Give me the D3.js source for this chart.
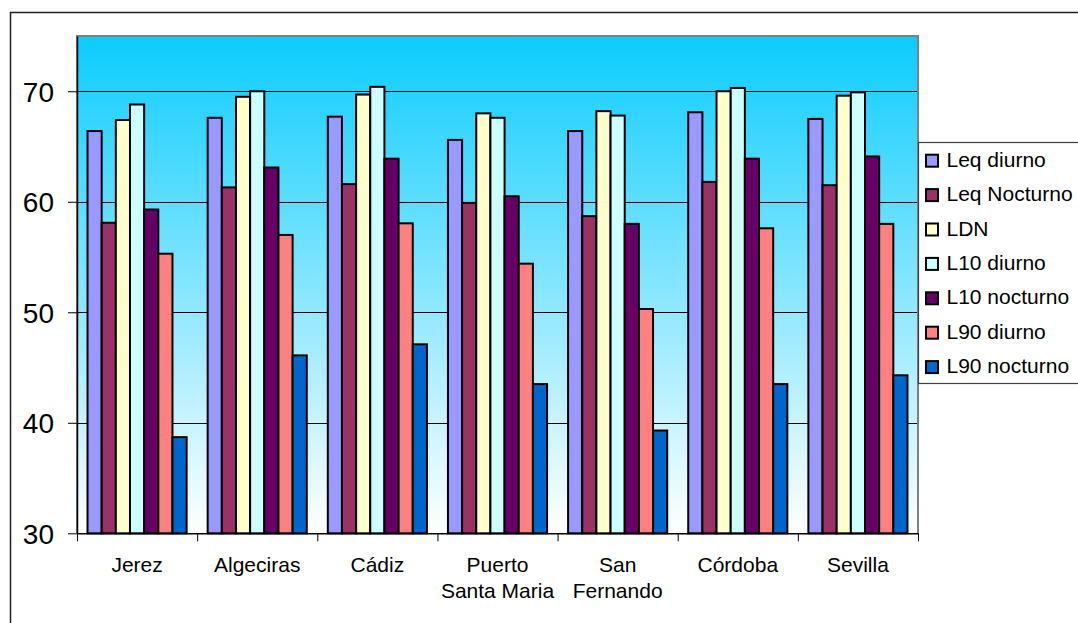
<!DOCTYPE html>
<html><head><meta charset="utf-8">
<script src="https://cdn.jsdelivr.net/npm/d3@7"></script>
<style>body{margin:0;background:#fff;} svg{display:block;font-family:Arial,"Liberation Sans",sans-serif;}</style>
</head><body><svg id="c" width="1078" height="623"></svg>
<script>
const categories = [["Jerez"],["Algeciras"],["Cádiz"],["Puerto","Santa Maria"],["San","Fernando"],["Córdoba"],["Sevilla"]];
const seriesNames = ["Leq diurno","Leq Nocturno","LDN","L10 diurno","L10 nocturno","L90 diurno","L90 nocturno"];
const seriesColors = ["#9999FF","#993366","#FFFFCC","#CCFFFF","#660066","#FF8080","#0066CC"];
const leqDiurno   = [66.4, 67.6, 67.7, 65.6, 66.4, 68.1, 67.5];
const leqNocturno = [58.1, 61.3, 61.6, 59.9, 58.7, 61.8, 61.5];
const ldn         = [67.4, 69.5, 69.7, 68.0, 68.2, 70.0, 69.6];
const l10Diurno   = [68.8, 70.0, 70.4, 67.6, 67.8, 70.3, 69.9];
const l10Nocturno = [59.3, 63.1, 63.9, 60.5, 58.0, 63.9, 64.1];
const l90Diurno   = [55.3, 57.0, 58.05, 54.4, 50.3, 57.6, 58.0];
const l90Nocturno = [38.7, 46.1, 47.1, 43.5, 39.3, 43.5, 44.3];
const seriesValues = [leqDiurno, leqNocturno, ldn, l10Diurno, l10Nocturno, l90Diurno, l90Nocturno];
const yTicks = [30, 40, 50, 60, 70];

const svg = d3.select("#c");
const L = 77, R = 918, T = 36, B = 533.3;

// outer border
svg.append("rect").attr("x",10.5).attr("y",12.5).attr("width",1100).attr("height",700)
  .attr("fill","#fff").attr("stroke","#222").attr("stroke-width",1.5);

const defs = svg.append("defs");
const g = defs.append("linearGradient").attr("id","bg").attr("x1",0).attr("y1",0).attr("x2",0).attr("y2",1);
g.append("stop").attr("offset","0%").attr("stop-color","#0BCCFF");
g.append("stop").attr("offset","100%").attr("stop-color","#FFFFFF");

const x0 = d3.scaleBand().domain(d3.range(categories.length)).range([L, R]).paddingInner(0).paddingOuter(0);
const bw = x0.bandwidth();
const x1 = d3.scaleBand().domain(d3.range(seriesNames.length)).range([bw*0.0875, bw*0.9125]).paddingInner(0).paddingOuter(0);
const y = d3.scaleLinear().domain([30, 75]).range([B, T]);

svg.append("rect").attr("x",L).attr("y",T).attr("width",R-L).attr("height",B-T).attr("fill","url(#bg)");

// gridlines
svg.append("g").selectAll("line").data(yTicks.filter(t=>t>30)).join("line")
  .attr("x1",L).attr("x2",R).attr("y1",d=>Math.round(y(d))+0.5).attr("y2",d=>Math.round(y(d))+0.5)
  .attr("stroke","#000").attr("stroke-width",1);

// plot border (gray)
svg.append("path").attr("d",`M${L},${B} V${T} H${R} V${B}`).attr("fill","none").attr("stroke","#808080").attr("stroke-width",2);

// bars
const groups = svg.append("g").selectAll("g").data(categories).join("g")
  .attr("transform",(d,i)=>`translate(${x0(i)},0)`);
groups.selectAll("rect").data((d,i)=>seriesValues.map((s,j)=>({j, v:s[i]}))).join("rect")
  .attr("x",d=>x1(d.j)).attr("width",x1.bandwidth())
  .attr("y",d=>y(d.v)).attr("height",d=>y(30)-y(d.v))
  .attr("fill",d=>seriesColors[d.j]).attr("stroke","#000").attr("stroke-width",2);

// y axis
const yAxis = svg.append("g").attr("transform",`translate(${L},0)`)
  .call(d3.axisLeft(y).tickValues(yTicks).tickSize(9).tickSizeOuter(0).tickPadding(14).tickFormat(d3.format("d")));
yAxis.select(".domain").attr("stroke","#000").attr("stroke-width",1.5);
yAxis.selectAll(".tick line").attr("stroke","#000");
yAxis.selectAll("text").attr("font-size",28).attr("fill","#000").attr("font-family","Arial, 'Liberation Sans', sans-serif").attr("dy","0.36em");

// x axis
const xb = d3.scaleLinear().domain([0, categories.length]).range([L, R]);
const xAxis = svg.append("g").attr("transform",`translate(0,${B})`)
  .call(d3.axisBottom(xb).tickValues(d3.range(categories.length+1)).tickSize(8).tickSizeOuter(0).tickFormat(""));
xAxis.select(".domain").attr("stroke","#000").attr("stroke-width",1.5);
xAxis.selectAll(".tick line").attr("stroke","#000");

svg.append("g").selectAll("text").data(categories).join("text")
  .attr("x",(d,i)=>x0(i)+x0.bandwidth()/2).attr("y",572).attr("text-anchor","middle")
  .attr("font-size",21).attr("fill","#000")
  .each(function(d){
    const t = d3.select(this);
    d.forEach((line,k)=>t.append("tspan").attr("x",t.attr("x")).attr("dy",k===0?0:25.5).text(line));
  });

// legend
const lg = svg.append("g");
lg.append("rect").attr("x",918.5).attr("y",142.5).attr("width",200).attr("height",241)
  .attr("fill","#fff").attr("stroke","#404040").attr("stroke-width",1.2);
const items = lg.selectAll("g.it").data(seriesNames).join("g").attr("class","it")
  .attr("transform",(d,i)=>`translate(0,${166.7 + i*34.4})`);
items.append("rect").attr("x",926).attr("y",-12).attr("width",12).attr("height",12)
  .attr("fill",(d,i)=>seriesColors[i]).attr("stroke","#000").attr("stroke-width",2);
items.append("text").attr("x",946.5).attr("y",0).attr("font-size",21).attr("fill","#000").text(d=>d);
</script></body></html>
